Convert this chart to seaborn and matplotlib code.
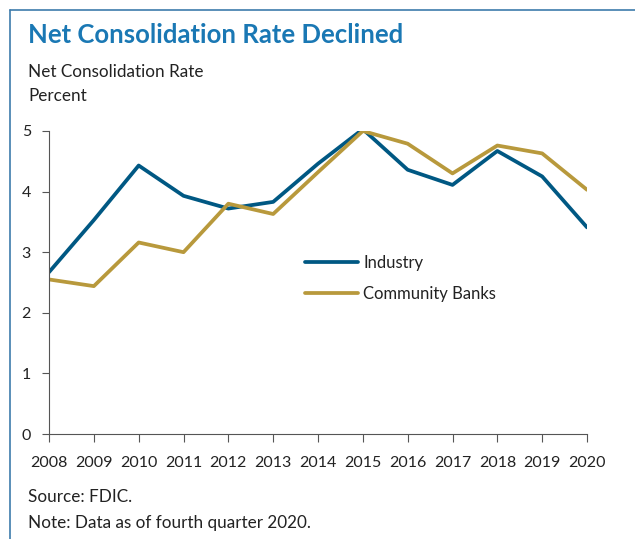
import seaborn as sns
import matplotlib.pyplot as plt
import pandas as pd

years = list(range(2008, 2021))
industry = [2.67, 3.53, 4.43, 3.93, 3.72, 3.83, 4.46, 5.03, 4.36, 4.11, 4.67, 4.25, 3.41]
community = [2.55, 2.44, 3.16, 3.00, 3.80, 3.63, 4.32, 5.00, 4.79, 4.30, 4.76, 4.63, 4.03]
series_names = ["Industry", "Community Banks"]
yticks = [0, 1, 2, 3, 4, 5]

df = pd.DataFrame({
    "year": years * 2,
    "rate": industry + community,
    "series": [series_names[0]] * len(years) + [series_names[1]] * len(years),
})

sns.set_style("white")
plt.rcParams["font.family"] = ["Lato", "DejaVu Sans"]

fig = plt.figure(figsize=(6.35, 5.39), dpi=100)
ax = fig.add_axes([0.0772, 0.1948, 0.8472, 0.5622])

palette = {"Industry": "#005883", "Community Banks": "#b8993c"}
sns.lineplot(data=df, x="year", y="rate", hue="series", palette=palette,
             linewidth=2.7, ax=ax, legend=True)

ax.set_xlim(2008, 2020)
ax.set_ylim(0, 5)
ax.set_xticks(years)
ax.set_yticks(yticks)
ax.set_xlabel("")
ax.set_ylabel("")
for s in ["top", "right"]:
    ax.spines[s].set_visible(False)
for s in ["left", "bottom"]:
    ax.spines[s].set_color("#555555")
    ax.spines[s].set_linewidth(0.8)
ax.tick_params(axis="x", direction="out", length=6, width=0.8, color="#555555",
               labelsize=11.5, pad=10, labelcolor="#222222")
ax.tick_params(axis="y", direction="out", length=5, width=0.8, color="#555555",
               labelsize=11.5, pad=8, labelcolor="#222222")
ax.tick_params(bottom=True, left=True)

leg = ax.legend(frameon=False, loc="upper left", bbox_to_anchor=(0.48, 0.527),
                bbox_transform=fig.transFigure, fontsize=12, handlelength=3.2,
                labelspacing=0.9, handletextpad=0.3, borderaxespad=0, borderpad=0)
for t in leg.get_texts():
    t.set_color("#222222")

fig.text(0.044, 0.935, "Net Consolidation Rate Declined", fontsize=18.5, fontweight="bold",
         color="#1a78b4", va="center")
fig.text(0.044, 0.866, "Net Consolidation Rate", fontsize=12.3, color="#222222", va="center")
fig.text(0.044, 0.822, "Percent", fontsize=12.3, color="#222222", va="center")
fig.text(0.044, 0.078, "Source: FDIC.", fontsize=12.3, color="#222222", va="center")
fig.text(0.044, 0.030, "Note: Data as of fourth quarter 2020.", fontsize=12.3, color="#222222", va="center")

# frame around the panel (left and top edges visible)
fig.add_artist(plt.Line2D([0.0165, 0.0165], [0.0, 0.981], color="#3d7bab", linewidth=1.2,
                          transform=fig.transFigure))
fig.add_artist(plt.Line2D([0.0165, 1.0], [0.981, 0.981], color="#3d7bab", linewidth=1.2,
                          transform=fig.transFigure))

fig.savefig("out.png", dpi=100)
